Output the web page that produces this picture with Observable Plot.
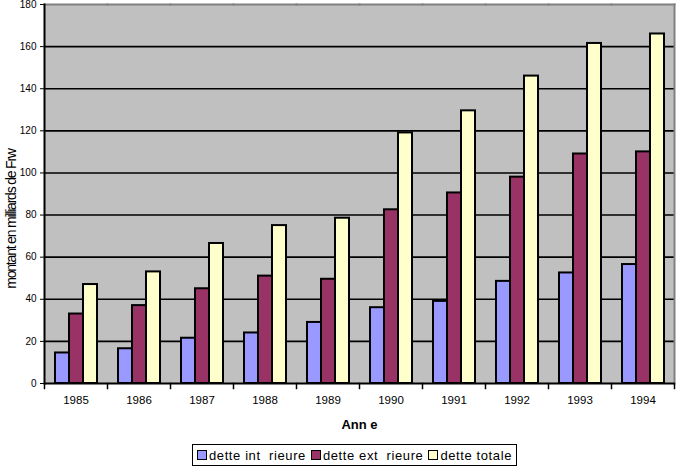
<!DOCTYPE html>
<html><head><meta charset="utf-8">
<script src="https://cdn.jsdelivr.net/npm/d3@7"></script>
<script src="https://cdn.jsdelivr.net/npm/@observablehq/plot@0.6"></script>
<style>
body{margin:0;background:#fff;font-family:"Liberation Sans",Arial,Helvetica,sans-serif;}
#chart{position:relative;width:677px;height:468px;overflow:hidden;}
#chart svg g[aria-label="y-axis label"] text{font-size:14px;letter-spacing:-1.2px;translate:0 25px;}
#chart svg g[aria-label="fx-axis label"] text{font-size:13px;font-weight:bold;}
#chart svg g[aria-label="fx-axis tick label"] text{font-size:11.5px;}
#legend{position:absolute;left:192px;top:444px;height:20px;border:1.5px solid #000;display:flex;align-items:center;padding:0 4px 0 4px;box-sizing:content-box;font-size:13px;letter-spacing:0.6px;white-space:pre;}
#legend .item{display:flex;align-items:center;margin-right:5px;}
#legend .item:last-child{margin-right:0;}
#legend .sw{width:8px;height:8px;border:1.5px solid #000;margin-right:2px;}
</style></head><body><div id="chart"></div>
<script>
const years = [1985, 1986, 1987, 1988, 1989, 1990, 1991, 1992, 1993, 1994];
const series = ["dette int  rieure", "dette ext  rieure", "dette totale"];
const interieure = [14.5, 16.5, 21.5, 24, 29, 36, 39, 48.5, 52.5, 56.5];
const exterieure = [33, 37, 45, 51, 49.5, 82.5, 90.5, 98, 109, 110];
const totale = [47, 53, 66.5, 75, 78.5, 119, 129.5, 146, 161.5, 166];
const colors = ["#9999ff", "#993366", "#ffffcc"];
const yTicks = [0, 20, 40, 60, 80, 100, 120, 140, 160, 180];
const yLabel = "montant en milliards de Frw";
const xLabel = "Ann e";

const values = [interieure, exterieure, totale];
const data = years.flatMap((year, i) => series.map((serie, s) => ({year, serie, value: values[s][i]})));

const W = 677, H = 442, MT = 4, MB = 59, ML = 42, MR = 1;
const plotH = H - MT - MB;

const chart = Plot.plot({
  width: W, height: H,
  marginTop: MT, marginBottom: MB, marginLeft: ML, marginRight: MR,
  style: {fontFamily: "'Liberation Sans', Arial, Helvetica, sans-serif", fontSize: "10px", color: "#000", background: "transparent", overflow: "visible"},
  fx: {domain: years, padding: 0, tickSize: 0, tickPadding: 12, tickFormat: d => String(d), label: xLabel, labelAnchor: "center", labelOffset: 45},
  x: {domain: series, paddingInner: 0, paddingOuter: 0.69, axis: null},
  y: {domain: [0, 180], ticks: yTicks, tickSize: 4, tickPadding: 4, label: yLabel, labelAnchor: "center", labelArrow: false, labelOffset: 38},
  color: {domain: series, range: colors},
  marks: [
    Plot.frame({fill: "#c0c0c0", stroke: "#c0c0c0"}),
    Plot.gridY(yTicks.filter(t => t > 0 && t < 180), {stroke: "#000", strokeOpacity: 1, strokeWidth: 1.6}),
    Plot.barY(data, {fx: "year", x: "serie", y: "value", fill: "serie", stroke: "#000", strokeWidth: 2}),
    Plot.frame({anchor: "top", stroke: "#808080", strokeWidth: 2}),
    Plot.frame({anchor: "right", facetAnchor: "right", stroke: "#808080", strokeWidth: 2}),
    Plot.ruleY([0], {stroke: "#000", strokeWidth: 2}),
    Plot.frame({anchor: "left", facetAnchor: "left", stroke: "#000", strokeWidth: 2}),
    Plot.frame({anchor: "left", stroke: "#000", strokeWidth: 1.5, insetTop: plotH, insetBottom: -5}),
    Plot.frame({anchor: "right", facetAnchor: "right", stroke: "#000", strokeWidth: 1.5, insetTop: plotH, insetBottom: -5})
  ]
});
document.getElementById("chart").appendChild(chart);

const legend = document.createElement("div");
legend.id = "legend";
series.forEach((s, i) => {
  const item = document.createElement("div");
  item.className = "item";
  const sw = document.createElement("div");
  sw.className = "sw";
  sw.style.background = colors[i];
  const t = document.createElement("span");
  t.textContent = s;
  item.appendChild(sw);
  item.appendChild(t);
  legend.appendChild(item);
});
document.getElementById("chart").appendChild(legend);
</script></body></html>
